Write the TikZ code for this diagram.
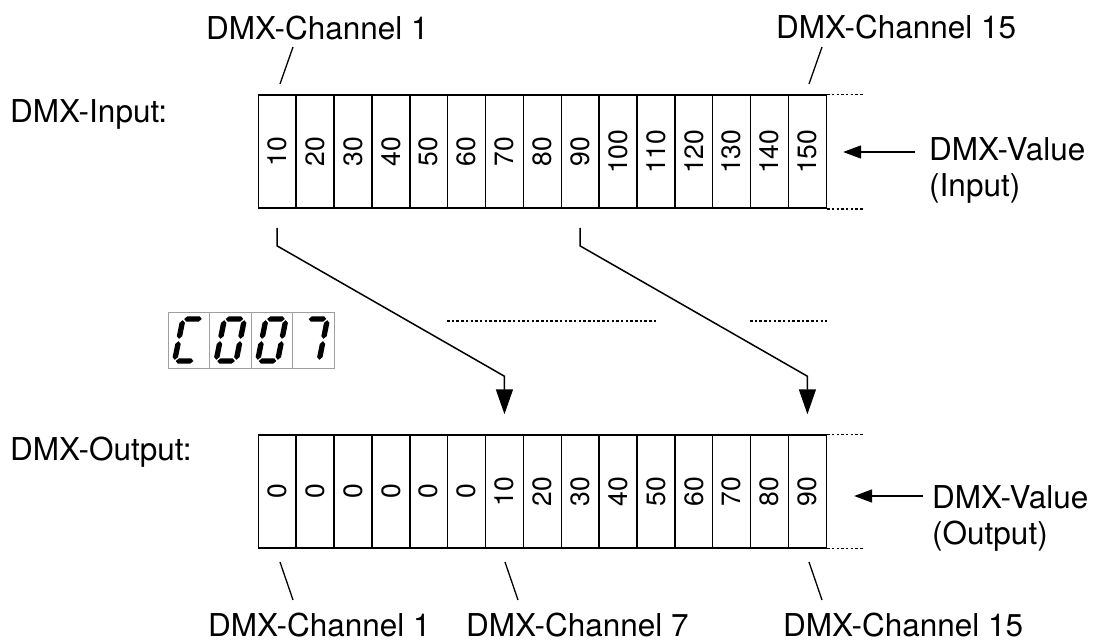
\documentclass[tikz,border=0pt]{standalone}
\usepackage{fontspec}
\setmainfont{TeX Gyre Heros}
\usetikzlibrary{arrows.meta}
\newcommand{\hseg}[3]{\fill (#1,#3) -- (#1+2.7,#3-2.7) -- (#2-2.7,#3-2.7) -- (#2,#3) -- (#2-2.7,#3+2.7) -- (#1+2.7,#3+2.7) -- cycle;}
\newcommand{\vseg}[3]{\fill (#1,#2) -- (#1+2.7,#2+2.7) -- (#1+2.7,#3-2.7) -- (#1,#3) -- (#1-2.7,#3-2.7) -- (#1-2.7,#2+2.7) -- cycle;}
\newcommand{\sga}{\hseg{-8.8}{8.8}{-21}}
\newcommand{\sgd}{\hseg{-8.8}{8.8}{21}}
\newcommand{\sgf}{\vseg{-10}{-19.8}{-1.2}}
\newcommand{\sge}{\vseg{-10}{1.2}{19.8}}
\newcommand{\sgb}{\vseg{10}{-19.8}{-1.2}}
\newcommand{\sgc}{\vseg{10}{1.2}{19.8}}
\begin{document}
\begin{tikzpicture}[x=1pt,y=-1pt,
  lbl/.style={anchor=base west, inner sep=0pt, font=\fontsize{31.5}{36}\selectfont},
  cell/.style={draw, line width=1.5pt, minimum width=37.87pt, minimum height=113pt, inner sep=0pt, font=\fontsize{26.5}{30}\selectfont},
  conn/.style={line width=1.5pt},
  lead/.style={line width=1.3pt},
  arr/.style={conn, -{Triangle[length=25pt,width=17pt]}},
  arrs/.style={conn, -{Triangle[length=18pt,width=13pt]}},
  dots/.style={line width=1.4pt, dash pattern=on 2.5pt off 2.2pt},
  dcell/.style={draw=gray!75, line width=1pt, minimum width=41.5pt, minimum height=56pt, inner sep=0pt}]
\useasboundingbox (0,0) rectangle (1109,642);

% input row
\foreach \v [count=\i] in {10,20,...,150}
  \node[cell] (in\i) at ({258.3+(\i-0.5)*37.87},151.7) {\rotatebox{90}{\v}};
% output row
\foreach \v [count=\i] in {0,0,0,0,0,0,10,20,30,40,50,60,70,80,90}
  \node[cell] (out\i) at ({258.3+(\i-0.5)*37.87},491.5) {\rotatebox{90}{\v}};

% dotted continuations
\draw[dots] (in15.north east) -- ++(37,0);
\draw[dots] (in15.south east) -- ++(37,0);
\draw[dots] (out15.north east) -- ++(37,0);
\draw[dots] (out15.south east) -- ++(37,0);
\coordinate (m1) at (447,321);
\coordinate (m2) at (657,321);
\coordinate (m3) at (750,321);
\coordinate (m4) at (827,321);
\draw[dots] (m1) -- (m2);
\draw[dots] (m3) -- (m4);

% mapping arrows
\draw[arr] ([yshift=-19pt]in1.south) -- ++(0,18) -- ([yshift=58pt]out7.north) -- ([yshift=20pt]out7.north);
\draw[arr] ([yshift=-19pt]in9.south) -- ++(0,18) -- ([yshift=58pt]out15.north) -- ([yshift=20pt]out15.north);

% labels
\node[lbl] (ch1t) at (206,40) {DMX-Channel 1};
\node[lbl] (ch15t) at (776,39) {DMX-Channel 15};
\node[lbl] (inl) at (10,122) {DMX-Input:};
\node[lbl] (outl) at (10,460) {DMX-Output:};
\node[lbl] (vin1) at (929,160) {DMX-Value};
\node[lbl] (vin2) at (929,196) {(Input)};
\node[lbl] (vout1) at (932,508) {DMX-Value};
\node[lbl] (vout2) at (932,544) {(Output)};
\node[lbl] (ch1b) at (208,636) {DMX-Channel 1};
\node[lbl] (ch7b) at (466,636) {DMX-Channel 7};
\node[lbl] (ch15b) at (783,636) {DMX-Channel 15};

% value arrows
\coordinate (vinT) at (915,152);
\path ([xshift=16pt]in15.east) coordinate (vinH);
\draw[arrs] (vinT) -- (vinH |- vinT);
\coordinate (voutT) at (923,496);
\path ([xshift=27pt]out15.east) coordinate (voutH);
\draw[arrs] (voutT) -- (voutH |- voutT);

% leader lines
\coordinate (l1a) at (280,84); \coordinate (l1b) at (293,47);
\coordinate (l2a) at (809,84); \coordinate (l2b) at (822,47);
\coordinate (l3a) at (280,562); \coordinate (l3b) at (293,600);
\coordinate (l4a) at (505,562); \coordinate (l4b) at (518,600);
\coordinate (l5a) at (809,562); \coordinate (l5b) at (822,600);
\draw[lead] (l1a) -- (l1b);
\draw[lead] (l2a) -- (l2b);
\draw[lead] (l3a) -- (l3b);
\draw[lead] (l4a) -- (l4b);
\draw[lead] (l5a) -- (l5b);

% seven-segment display
\foreach \i in {1,2,3,4}
  \node[dcell] (d\i) at ({168+(\i-0.5)*41.5},340) {};
\begin{scope}[shift={(d1.center)}, xslant=0.2]
  \sga \sgd \sge \sgf
\end{scope}
\begin{scope}[shift={(d2.center)}, xslant=0.2]
  \sga \sgb \sgc \sgd \sge \sgf
\end{scope}
\begin{scope}[shift={(d3.center)}, xslant=0.2]
  \sga \sgb \sgc \sgd \sge \sgf
\end{scope}
\begin{scope}[shift={(d4.center)}, xslant=0.2]
  \sga \sgb \sgc
\end{scope}
\end{tikzpicture}
\end{document}
